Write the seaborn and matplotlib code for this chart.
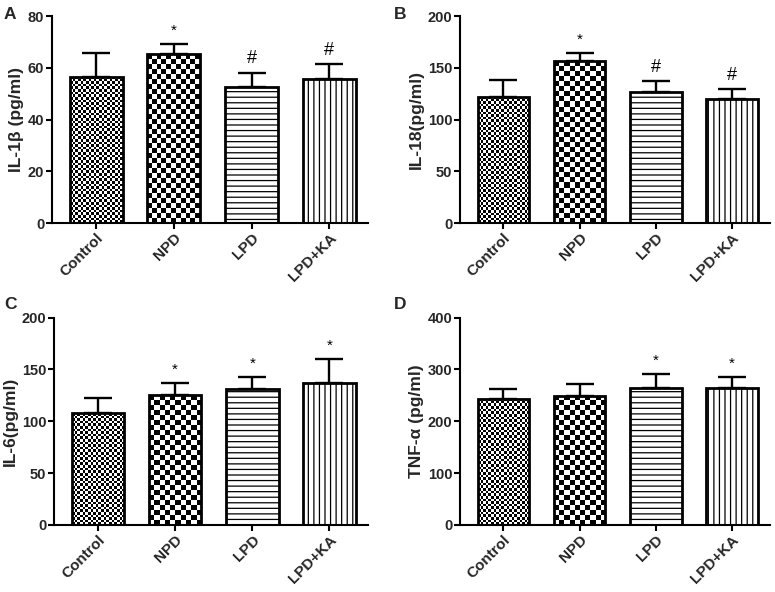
import numpy as np
import matplotlib
matplotlib.use("Agg")
import matplotlib.pyplot as plt
import seaborn as sns

sns.set_theme(style="ticks")
plt.rcParams['font.family'] = ['Liberation Sans', 'DejaVu Sans']
plt.rcParams['hatch.linewidth'] = 0.9

categories = ["Control", "NPD", "LPD", "LPD+KA"]

il1b_mean = [56.5, 65.3, 52.4, 55.5]
il1b_err = [9.3, 3.8, 5.7, 5.8]
il1b_marks = ["", "*", "#", "#"]

il18_mean = [121.9, 156.3, 126.1, 119.6]
il18_err = [16.1, 8.4, 10.9, 9.7]
il18_marks = ["", "*", "#", "#"]

il6_mean = [107.5, 125.2, 131.3, 136.4]
il6_err = [15.1, 11.8, 11.5, 23.2]
il6_marks = ["", "*", "*", "*"]

tnf_mean = [243.0, 249.0, 265.0, 263.8]
tnf_err = [19.4, 22.5, 27.0, 22.2]
tnf_marks = ["", "", "*", "*"]

panels = [
    ("A", "IL-1β (pg/ml)", il1b_mean, il1b_err, il1b_marks, 80, [0, 20, 40, 60, 80]),
    ("B", "IL-18(pg/ml)", il18_mean, il18_err, il18_marks, 200, [0, 50, 100, 150, 200]),
    ("C", "IL-6(pg/ml)", il6_mean, il6_err, il6_marks, 200, [0, 50, 100, 150, 200]),
    ("D", "TNF-α (pg/ml)", tnf_mean, tnf_err, tnf_marks, 400, [0, 100, 200, 300, 400]),
]

W, H = 775, 592
fig = plt.figure(figsize=(W / 100, H / 100), dpi=100)

# axes boxes in pixels: left, top, right, bottom
boxes = [(52, 16, 368, 223), (460, 16, 770, 223), (54, 317.5, 368, 525), (460, 317.5, 770, 525)]
letter_pos = [(4, 7), (394, 7), (4, 297), (394, 297)]


def checker(ax, patch, cell):
    fig.canvas.draw()
    bb = patch.get_window_extent()
    nx = max(1, int(round(bb.width / cell)))
    ny = max(1, int(round(bb.height / cell)))
    arr = (np.indices((ny, nx)).sum(0) % 2).astype(float)
    x0, y0 = patch.get_x(), patch.get_y()
    w, h = patch.get_width(), patch.get_height()
    im = ax.imshow(arr, cmap="gray", extent=(x0, x0 + w, y0, y0 + h), aspect="auto",
                   interpolation="nearest", zorder=1.5, vmin=0, vmax=1)
    im.set_clip_path(patch)


for (letter, ylabel, mean, err, marks, ymax, yticks), (l, t, r, b), (lx, ly) in zip(panels, boxes, letter_pos):
    ax = fig.add_axes([l / W, 1 - b / H, (r - l) / W, (b - t) / H])
    sns.barplot(x=categories, y=mean, ax=ax, color="white", edgecolor="black",
                linewidth=2.0, width=0.68, errorbar=None, saturation=1)
    ax.set_xlim(-0.57, 3.5)
    ax.set_ylim(0, ymax)
    ax.set_yticks(yticks)
    ax.errorbar(range(len(categories)), mean, yerr=[np.zeros(len(err)), err], fmt="none",
                ecolor="black", elinewidth=1.7, capsize=10, capthick=1.7, zorder=1)
    bars = ax.patches[:4]
    for p in bars:
        p.set_zorder(3)
        p.set_facecolor("none")
    checker(ax, bars[0], 2.6)
    checker(ax, bars[1], 5.0)
    bars[2].set_hatch("---")
    bars[3].set_hatch("|||")
    for p in bars[2:]:
        p.set_facecolor("white")
        p.set_zorder(2)
        p.set_edgecolor("black")
    for i, m in enumerate(marks):
        if m:
            top = mean[i] + err[i]
            off = 9.5 if m == "*" else 10
            fs = 11 if m == "*" else 13
            ax.annotate(m, xy=(i, top), xytext=(0, off), textcoords="offset points",
                        ha="center", va="center", fontsize=fs, color="black")
    for s in ["top", "right"]:
        ax.spines[s].set_visible(False)
    for s in ["left", "bottom"]:
        ax.spines[s].set_linewidth(1.5)
        ax.spines[s].set_color("black")
    ax.tick_params(axis="y", length=4, width=1.5, color="black", labelsize=10.5, pad=1.5)
    ax.tick_params(axis="x", length=4, width=1.5, color="black", labelsize=11, pad=1.5)
    ax.set_xlabel("")
    ax.set_ylabel(ylabel, fontsize=12.5, fontweight="bold", labelpad=2.5)
    for lab in ax.get_yticklabels():
        lab.set_fontweight("bold")
    for lab in ax.get_xticklabels():
        lab.set_fontweight("bold")
        lab.set_rotation(45)
        lab.set_ha("right")
        lab.set_va("top")
        lab.set_rotation_mode("anchor")
    fig.text(lx / W, 1 - ly / H, letter, fontsize=12.5, fontweight="bold", ha="left", va="top")

fig.savefig("out.png", dpi=100, facecolor="white")
